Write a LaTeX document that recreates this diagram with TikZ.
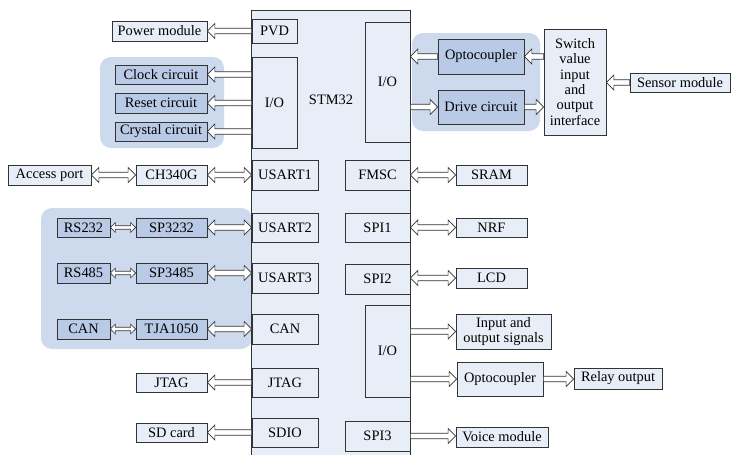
\documentclass[tikz,border=0pt]{standalone}
\usepackage{fontspec}
\setmainfont{Liberation Serif}
\usetikzlibrary{calc}
\definecolor{lightfill}{HTML}{E8EEF7}
\definecolor{darkfill}{HTML}{B8CAE5}
\definecolor{grpfill}{HTML}{CDD9EC}
\definecolor{edge}{HTML}{333333}
\newcommand{\setarr}[3]{\def\aSh{#1}\def\aHw{#2}\def\aHl{#3}}
\setarr{2.8pt}{7.5pt}{7.5pt}
% head on the right; #1 = left (source) point, #2 = right (target) point
\newcommand{\arrR}[2]{\draw[blk] let \p1=(#1), \p2=(#2) in
  (\x1,\y1+\aSh) -- (\x2-\aHl,\y1+\aSh) -- (\x2-\aHl,\y1+\aHw) -- (\x2,\y1)
  -- (\x2-\aHl,\y1-\aHw) -- (\x2-\aHl,\y1-\aSh) -- (\x1,\y1-\aSh) -- cycle;}
% head on the left; #1 = left (target) point, #2 = right (source) point
\newcommand{\arrL}[2]{\draw[blk] let \p1=(#1), \p2=(#2) in
  (\x2,\y2+\aSh) -- (\x1+\aHl,\y2+\aSh) -- (\x1+\aHl,\y2+\aHw) -- (\x1,\y2)
  -- (\x1+\aHl,\y2-\aHw) -- (\x1+\aHl,\y2-\aSh) -- (\x2,\y2-\aSh) -- cycle;}
% heads on both sides
\newcommand{\arrLR}[2]{\draw[blk] let \p1=(#1), \p2=(#2) in
  (\x1,\y1) -- (\x1+\aHl,\y1+\aHw) -- (\x1+\aHl,\y1+\aSh) -- (\x2-\aHl,\y1+\aSh)
  -- (\x2-\aHl,\y1+\aHw) -- (\x2,\y1) -- (\x2-\aHl,\y1-\aHw) -- (\x2-\aHl,\y1-\aSh)
  -- (\x1+\aHl,\y1-\aSh) -- (\x1+\aHl,\y1-\aHw) -- cycle;}
\begin{document}
\begin{tikzpicture}[x=1pt,y=-1pt,
  box/.style={draw=edge, line width=0.75pt, fill=lightfill, inner sep=0pt, align=center,
    font=\fontsize{14.4}{15.3}\selectfont},
  dbox/.style={box, fill=darkfill},
  grp/.style={fill=grpfill, rounded corners=11pt},
  blk/.style={draw=edge, line width=0.65pt, fill=white, line join=miter},
  lbl/.style={inner sep=0pt, font=\fontsize{14.4}{15.3}\selectfont}
]
\useasboundingbox (0,0) rectangle (732,455);

% groups
\fill[grp] (100,57) rectangle (224,148);
\fill[grp] (412,33) rectangle (540,131);
\fill[grp] (41,208) rectangle (252,349);

% STM32 body
\node[fill=lightfill, draw=none, inner sep=0pt, minimum width=158pt, minimum height=444pt] (stm) at (331,233) {};
\draw[edge, line width=0.75pt] (stm.south west) -- (stm.north west) -- (stm.north east) -- (stm.south east);
\node[lbl] (stmlabel) at (331,100) {STM32};

% blocks inside STM32
\node[box, minimum width=45pt, minimum height=24pt] (pvd) at (274.5,31) {PVD};
\node[box, minimum width=45pt, minimum height=91pt] (io1) at (274.5,102.5) {I/O};
\node[box, minimum width=45pt, minimum height=120pt] (io2) at (387.5,82) {I/O};
\node[box, minimum width=66pt, minimum height=30pt] (usart1) at (285,175) {USART1};
\node[box, minimum width=65pt, minimum height=30pt] (fmsc) at (377.5,175) {FMSC};
\node[box, minimum width=66pt, minimum height=29pt] (usart2) at (285,227.5) {USART2};
\node[box, minimum width=65pt, minimum height=29pt] (spi1) at (377.5,227.5) {SPI1};
\node[box, minimum width=66pt, minimum height=30pt] (usart3) at (285,278) {USART3};
\node[box, minimum width=65pt, minimum height=30pt] (spi2) at (377.5,279) {SPI2};
\node[box, minimum width=66pt, minimum height=30pt] (can2) at (285,329) {CAN};
\node[box, minimum width=45pt, minimum height=92pt] (io3) at (387.5,351) {I/O};
\node[box, minimum width=66pt, minimum height=29pt] (jtag2) at (285,382.5) {JTAG};
\node[box, minimum width=66pt, minimum height=29pt] (sdio) at (285,432.5) {SDIO};
\node[box, minimum width=65pt, minimum height=30pt] (spi3) at (377.5,436) {SPI3};

% left side
\node[box, minimum width=95pt, minimum height=20pt] (power) at (159.5,31) {Power module};
\node[dbox, minimum width=92pt, minimum height=19pt] (clock) at (161,74.5) {Clock circuit};
\node[dbox, minimum width=92pt, minimum height=20pt] (reset) at (161,103) {Reset circuit};
\node[dbox, minimum width=92pt, minimum height=19pt] (crystal) at (161,131.5) {Crystal circuit};
\node[box, minimum width=83pt, minimum height=20pt] (access) at (49.5,175) {Access port};
\node[box, minimum width=71pt, minimum height=20pt] (ch340) at (171.5,175) {CH340G};
\node[dbox, minimum width=53pt, minimum height=19pt] (rs232) at (83.5,227.5) {RS232};
\node[dbox, minimum width=71pt, minimum height=19pt] (sp3232) at (171.5,227.5) {SP3232};
\node[dbox, minimum width=53pt, minimum height=20pt] (rs485) at (83.5,273) {RS485};
\node[dbox, minimum width=71pt, minimum height=20pt] (sp3485) at (171.5,273) {SP3485};
\node[dbox, minimum width=53pt, minimum height=20pt] (can1) at (83.5,329) {CAN};
\node[dbox, minimum width=71pt, minimum height=20pt] (tja) at (171.5,329) {TJA1050};
\node[box, minimum width=71pt, minimum height=19pt] (jtag1) at (171.5,382.5) {JTAG};
\node[box, minimum width=71pt, minimum height=19pt] (sd) at (171.5,432.5) {SD card};

% right side
\node[dbox, minimum width=86pt, minimum height=35pt] (opto1) at (481,56.5) {Optocoupler};
\node[dbox, minimum width=86pt, minimum height=34pt] (drive) at (481,107) {Drive circuit};
\node[box, minimum width=62pt, minimum height=106pt] (switch) at (575,82) {Switch\\value\\input\\and\\output\\interface};
\node[box, minimum width=100pt, minimum height=19pt] (sensor) at (680,82.5) {Sensor module};
\node[box, minimum width=71pt, minimum height=20pt] (sram) at (491.5,175) {SRAM};
\node[box, minimum width=71pt, minimum height=19pt] (nrf) at (491.5,227.5) {NRF};
\node[box, minimum width=71pt, minimum height=20pt] (lcd) at (491.5,278) {LCD};
\node[box, minimum width=95pt, minimum height=35pt] (inout) at (503.5,331.5) {Input and\\output signals};
\node[box, minimum width=86pt, minimum height=34pt] (opto2) at (500,379) {Optocoupler};
\node[box, minimum width=88pt, minimum height=21pt] (relay) at (618,378.5) {Relay output};
\node[box, minimum width=92pt, minimum height=20pt] (voice) at (502,437) {Voice module};

% connectors
\arrL{power.east}{pvd.west}
\arrL{clock.east}{io1.west |- clock.east}
\arrL{reset.east}{io1.west |- reset.east}
\arrL{crystal.east}{io1.west |- crystal.east}
\arrL{opto1.east}{switch.west |- opto1.east}
\arrL{io2.east |- opto1.west}{opto1.west}
\arrR{io2.east |- drive.west}{drive.west}
\arrR{drive.east}{switch.west |- drive.east}
\arrL{switch.east |- sensor.west}{sensor.west}
\arrLR{access.east}{ch340.west}
\arrLR{ch340.east}{usart1.west |- ch340.east}
\arrLR{fmsc.east |- sram.west}{sram.west}
\arrLR{spi1.east |- nrf.west}{nrf.west}
\arrLR{spi2.east |- lcd.west}{lcd.west}
{\setarr{1.8pt}{4.8pt}{5pt}
 \arrLR{rs232.east}{sp3232.west}
 \arrLR{rs485.east}{sp3485.west}
 \arrLR{can1.east}{tja.west}}
\arrLR{sp3232.east}{usart2.west |- sp3232.east}
\arrLR{sp3485.east}{usart3.west |- sp3485.east}
\arrLR{tja.east}{can2.west |- tja.east}
\arrL{jtag1.east}{jtag2.west |- jtag1.east}
\arrL{sd.east}{sdio.west |- sd.east}
\arrR{io3.east |- inout.west}{inout.west}
\arrR{io3.east |- opto2.west}{opto2.west}
\arrR{opto2.east}{relay.west |- opto2.east}
\arrR{spi3.east}{voice.west |- spi3.east}
\end{tikzpicture}
\end{document}
